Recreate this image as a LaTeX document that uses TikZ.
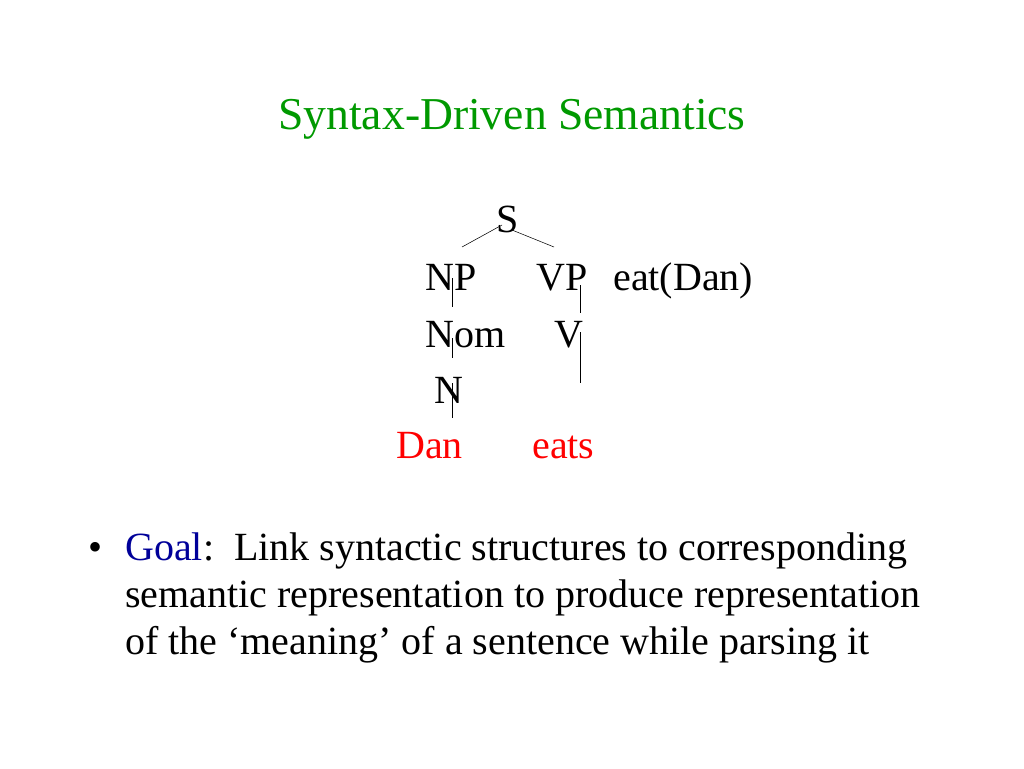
\documentclass[tikz,border=0pt]{standalone}
\usepackage{fontspec}
\setmainfont{Liberation Serif}
\definecolor{titlegreen}{RGB}{0,153,0}
\definecolor{goalblue}{RGB}{0,0,153}
\definecolor{wordred}{RGB}{255,0,0}
\tikzset{
  lbl/.style={inner sep=0pt, anchor=base west, font=\fontsize{30}{36}\selectfont},
  word/.style={lbl, text=wordred},
  branch/.style={thin, black}
}
\begin{document}
\begin{tikzpicture}[x=0.75pt,y=-0.75pt]
\useasboundingbox (0,0) rectangle (1024,768);
% title
\node[inner sep=0pt, anchor=base, text=titlegreen, font=\fontsize{34.2}{40}\selectfont] (title) at (512,129) {Syntax-Driven Semantics};
% tree
\node[lbl] (S)   at (496,232) {S};
\node[lbl] (NP)  at (425,290) {NP};
\node[lbl] (VP)  at (536,290) {VP};
\node[lbl] (sem) at (613,290) {eat(Dan)};
\node[lbl] (Nom) at (425,347) {Nom};
\node[lbl] (V)   at (554,347) {V};
\node[lbl] (N)   at (434,403) {N};
\node[word] (Dan)  at (396,458) {Dan};
\node[word] (eats) at (532,458) {eats};
% branch end points
\coordinate (sl) at (502,225); \coordinate (npt) at (462,247);
\coordinate (sr) at (512,230); \coordinate (vpt) at (554,247);
\coordinate (np1) at (452,278); \coordinate (np2) at (452,307);
\coordinate (nm1) at (452,338); \coordinate (nm2) at (452,358);
\coordinate (n1)  at (452,383); \coordinate (n2)  at (452,418);
\coordinate (vp1) at (580,285); \coordinate (vp2) at (580,313);
\coordinate (v1)  at (580,332); \coordinate (v2)  at (580,383);
\draw[branch] (sl) -- (npt);
\draw[branch] (sr) -- (vpt);
\draw[branch] (np1) -- (np2);
\draw[branch] (nm1) -- (nm2);
\draw[branch] (n1) -- (n2);
\draw[branch] (vp1) -- (vp2);
\draw[branch] (v1) -- (v2);
% bullet text
\node[lbl] (dot) at (88,560) {\textbullet};
\node[lbl] (line1) at (125,560) {\textcolor{goalblue}{Goal}:\ \ Link syntactic structures to corresponding};
\node[lbl] (line2) at (125,607) {semantic representation to produce representation};
\node[lbl] (line3) at (125,654) {of the `meaning' of a sentence while parsing it};
\end{tikzpicture}
\end{document}
